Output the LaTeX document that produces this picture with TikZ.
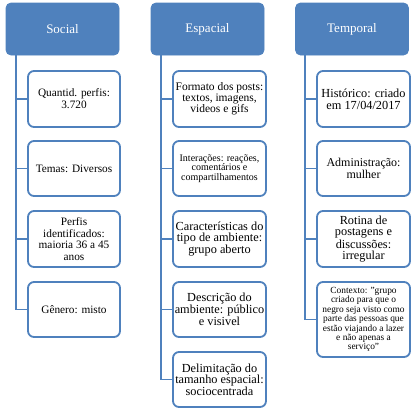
\documentclass[tikz,border=0pt]{standalone}
\usepackage{fontspec}
\setmainfont{Liberation Serif}
\definecolor{ofblue}{HTML}{4F81BD}
\begin{document}
\begin{tikzpicture}[x=1pt,y=-1pt,
  head/.style={rectangle, rounded corners=5pt, fill=ofblue, draw=ofblue, line width=0.8pt,
    minimum width=113pt, minimum height=52pt, inner sep=0pt, text=white,
    font=\fontsize{13}{15}\selectfont},
  leaf/.style={rectangle, rounded corners=6pt, fill=white, draw=ofblue, line width=1.8pt,
    inner sep=0pt, align=center, minimum width=92pt},
  fs/.style 2 args={font={\fontsize{#1}{#2}\selectfont}},
  conn/.style={draw=ofblue, line width=1.8pt}]
\useasboundingbox (0,0) rectangle (419,408);

\node[head] (soc) at (62.5,29) {Social};
\node[head] (esp) at (207.5,29) {Espacial};
\node[head] (tem) at (352,29) {Temporal};

% Social
\node[leaf, minimum height=56pt, fs={11.3}{12}] (s1) at (74,99) {Quantid. perfis:\\3.720};
\node[leaf, minimum height=55pt, fs={11.3}{12}] (s2) at (74,168.5) {Temas: Diversos};
\node[leaf, minimum height=56pt, fs={11.3}{11.5}] (s3) at (74,239) {Perfis\\identificados:\\maioria 36 a 45\\anos};
\node[leaf, minimum height=55pt, fs={11.3}{12}] (s4) at (74,309.5) {Gênero: misto};

% Espacial
\node[leaf, minimum width=93pt, minimum height=56pt, fs={11.5}{11}] (e1) at (219.5,99) {Formato dos posts:\\textos, imagens,\\videos e gifs};
\node[leaf, minimum width=93pt, minimum height=55pt, fs={10}{9.6}] (e2) at (219.5,168.5) {Interações: reações,\\comentários e\\compartilhamentos};
\node[leaf, minimum width=93pt, minimum height=56pt, fs={12.3}{11.5}] (e3) at (219.5,239) {Características do\\tipo de ambiente:\\grupo aberto};
\node[leaf, minimum width=93pt, minimum height=55pt, fs={12.3}{12}] (e4) at (219.5,309.5) {Descrição do\\ambiente: público\\e visivel};
\node[leaf, minimum width=93pt, minimum height=55pt, fs={12.3}{11.5}] (e5) at (219.5,379.5) {Delimitação do\\tamanho espacial:\\sociocentrada};

% Temporal
\node[leaf, minimum width=93pt, minimum height=56pt, fs={12.3}{12}] (t1) at (363.5,99) {Histórico: criado\\em 17/04/2017};
\node[leaf, minimum width=93pt, minimum height=55pt, fs={12}{12}] (t2) at (363.5,168.5) {Administração:\\mulher};
\node[leaf, minimum width=93pt, minimum height=56pt, fs={12.3}{11}] (t3) at (363.5,239) {Rotina de\\postagens e\\discussões:\\irregular};
\node[leaf, minimum width=93pt, minimum height=75pt, fs={9.4}{7.8}] (t4) at (363.5,319.5) {Contexto: "grupo\\criado para que o\\negro seja visto como\\parte das pessoas que\\estão viajando a lazer\\e não apenas a\\serviço"};

% Connectors
\foreach \c in {s1,s2,s3,s4}
  \draw[conn] ([xshift=10pt]soc.south west) |- (\c.west);
\foreach \c in {e1,e2,e3,e4,e5}
  \draw[conn] ([xshift=10pt]esp.south west) |- (\c.west);
\foreach \c in {t1,t2,t3,t4}
  \draw[conn] ([xshift=10pt]tem.south west) |- (\c.west);
\end{tikzpicture}
\end{document}
